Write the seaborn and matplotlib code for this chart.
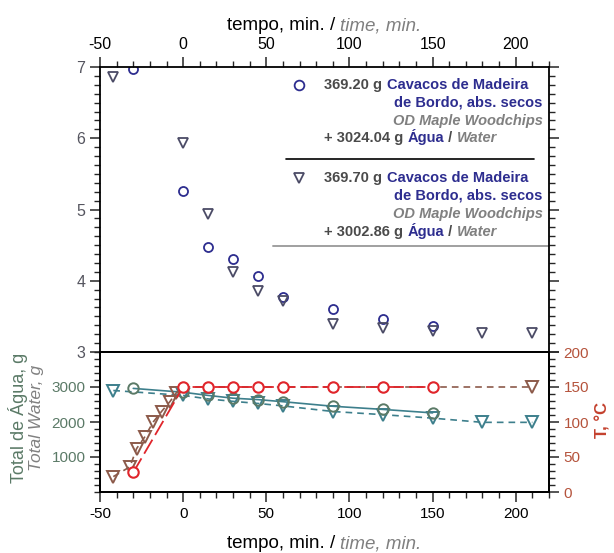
import numpy as np
import pandas as pd
import seaborn as sns
import matplotlib.pyplot as plt
from matplotlib.ticker import MultipleLocator, FixedLocator

# dados
tempo_c = [-30, 0, 15, 30, 45, 60, 90, 120, 150]
cavacos_c = [6.97, 5.26, 4.47, 4.31, 4.06, 3.77, 3.60, 3.47, 3.36]
tempo_t = [-42, 0, 15, 30, 45, 60, 90, 120, 150, 180, 210]
cavacos_t = [6.86, 5.93, 4.93, 4.12, 3.86, 3.72, 3.40, 3.34, 3.30, 3.27, 3.27]

agua_c = [2960, 2850, 2760, 2680, 2640, 2580, 2450, 2360, 2260]
agua_t = [2900, 2760, 2660, 2590, 2530, 2460, 2300, 2210, 2110, 1990, 1990]

temp_c = [28, 150, 150, 150, 150, 150, 150, 150, 150]
tempo_temp_t = [-42, -32, -28, -23, -18, -13, -8, -4, 0, 210]
temp_t = [22, 36, 62, 79, 100, 115, 129, 142, 150, 150]

sns.set_style('ticks')
plt.rcParams['font.family'] = ['Liberation Sans', 'DejaVu Sans']
plt.rcParams['axes.unicode_minus'] = False

navy = '#2d2d8f'
cinza_esc = '#4a4a4a'
cinza = '#808080'
verde = '#5b7a67'
teal = '#3d7f8c'
vermelho = '#e0252b'
marrom = '#8c5a4a'
tcol = '#b5533c'

fig = plt.figure(figsize=(6.14, 5.53), dpi=100)
W, H = 614, 553
ax1 = fig.add_axes([100 / W, 1 - 352 / H, 449 / W, 285 / H])
ax2 = fig.add_axes([100 / W, 1 - 492 / H, 449 / W, 140 / H])
ax2r = ax2.twinx()

# ---- painel de cima ----
sns.lineplot(x=tempo_c, y=cavacos_c, ax=ax1, marker='o', linestyle='', color=navy,
             markerfacecolor='none', markeredgecolor=navy, markersize=6.5, markeredgewidth=1.3)
sns.lineplot(x=tempo_t, y=cavacos_t, ax=ax1, marker='v', linestyle='', color='#4b4b66',
             markerfacecolor='none', markeredgecolor='#4b4b66', markersize=7.5, markeredgewidth=1.3)

ax1.set_xlim(-50, 220)
ax1.set_ylim(3, 7)
ax1.xaxis.set_major_locator(MultipleLocator(50))
ax1.xaxis.set_minor_locator(MultipleLocator(10))
ax1.yaxis.set_major_locator(MultipleLocator(1))
ax1.yaxis.set_minor_locator(MultipleLocator(0.125))
ax1.tick_params(axis='x', which='both', bottom=False, top=True, labelbottom=False,
                labeltop=True, direction='out', labelsize=11.5, labelcolor='black')
ax1.tick_params(axis='y', which='both', left=True, right=True, labelright=False,
                direction='out', labelsize=11.5, labelcolor='#55555f')
ax1.tick_params(which='major', length=7, width=1.1)
ax1.tick_params(which='minor', length=4, width=1.0)

# legenda feita a mao
def texto_multi(ax, x, y, partes, size=10.5):
    t = ax.text(x, y, partes[0][0], color=partes[0][1], fontweight='bold',
                fontstyle=partes[0][2], fontsize=size, va='center', ha='left')
    for s, c, st in partes[1:]:
        t = ax.annotate(s, xycoords=t, xy=(1, 0), va='bottom', color=c,
                        fontweight='bold', fontstyle=st, fontsize=size)
    return t

blocos = [(6.75, 'o', navy, '369.20 g ', '+ 3024.04 g '),
          (5.44, 'v', '#4b4b66', '369.70 g ', '+ 3002.86 g ')]
for y0, mk, cor, massa, agua in blocos:
    ax1.plot([69.7], [y0], marker=mk, linestyle='', markerfacecolor='none',
             markeredgecolor=cor, markersize=7, markeredgewidth=1.3)
    texto_multi(ax1, 85, y0, [(massa, cinza_esc, 'normal'),
                              ('Cavacos de Madeira', navy, 'normal')])
    ax1.text(216, y0 - 0.25, 'de Bordo, abs. secos', color=navy, fontweight='bold',
             fontsize=10.5, ha='right', va='center')
    ax1.text(216.5, y0 - 0.51, 'OD Maple Woodchips', color=cinza, fontstyle='italic',
             fontweight='bold', fontsize=10.5, ha='right', va='center')
    texto_multi(ax1, 85, y0 - 0.75, [(agua, cinza_esc, 'normal'), ('Água', navy, 'normal'),
                                     (' / ', cinza_esc, 'normal'), ('Water', cinza, 'italic')])

ax1.plot([62, 211], [5.71, 5.71], color='black', lw=1.2)
ax1.plot([54, 220], [4.49, 4.49], color='#a0a0a0', lw=1.4)

# ---- painel de baixo ----
sns.lineplot(x=tempo_t, y=agua_t, ax=ax2, marker='v', color=teal, linestyle=(0, (4, 3)),
             markerfacecolor='none', markeredgecolor=teal, markersize=8, markeredgewidth=1.4, lw=1.2)
sns.lineplot(x=tempo_c, y=agua_c, ax=ax2, marker='o', color=teal, linestyle='-',
             markerfacecolor='none', markeredgecolor=verde, markersize=7.5, markeredgewidth=1.4, lw=1.2)

ax2.set_xlim(-50, 220)
ax2.set_ylim(0, 4000)
ax2.yaxis.set_major_locator(FixedLocator([1000, 2000, 3000]))
ax2.yaxis.set_minor_locator(MultipleLocator(200))
ax2.xaxis.set_major_locator(MultipleLocator(50))
ax2.xaxis.set_minor_locator(MultipleLocator(10))
ax2.tick_params(axis='x', which='both', bottom=True, top=False, direction='out',
                labelsize=11, labelcolor='black')
ax2.tick_params(axis='y', which='both', left=True, right=False, direction='out',
                labelsize=11, labelcolor=verde)
ax2.tick_params(which='major', length=7, width=1.1)
ax2.tick_params(which='minor', length=4, width=1.0)

ax2r.plot(tempo_temp_t, temp_t, color=marrom, linestyle=(0, (4, 3)), lw=1.2,
          marker='v', markevery=[0, 1, 2, 3, 4, 5, 6, 7, 9], markerfacecolor='none',
          markeredgecolor=marrom, markersize=8, markeredgewidth=1.4)
sns.lineplot(x=tempo_c, y=temp_c, ax=ax2r, marker='o', color=vermelho, linestyle=(0, (9, 3)),
             markerfacecolor='white', markeredgecolor=vermelho, markersize=7.5, markeredgewidth=1.5, lw=1.3)
ax2r.set_ylim(0, 200)
ax2r.yaxis.set_major_locator(MultipleLocator(50))
ax2r.yaxis.set_minor_locator(MultipleLocator(10))
ax2r.tick_params(axis='y', which='both', right=True, direction='out', labelsize=11, labelcolor=tcol)
ax2r.tick_params(which='major', length=7, width=1.1)
ax2r.tick_params(which='minor', length=4, width=1.0)
ax2r.set_ylabel('')

for ax in (ax1, ax2, ax2r):
    ax.set_xlabel('')
    for sp in ax.spines.values():
        sp.set_visible(True)
        sp.set_linewidth(1.3)
        sp.set_color('black')
ax1.set_ylabel('')
ax2.set_ylabel('')

# rotulos do tempo (em cima e em baixo)
for ypix in (26, 544):
    t = fig.text(227 / W, 1 - ypix / H, 'tempo, min. / ', fontsize=13.5, color='black', va='center')
    ax1.annotate('time, min.', xycoords=t, xy=(1, 0), va='bottom', fontsize=13.5,
                 color=cinza, fontstyle='italic', annotation_clip=False)

fig.text(18 / W, 1 - 418 / H, 'Total de Água, g', rotation=90, fontsize=13, color=verde,
         ha='center', va='center')
fig.text(37 / W, 1 - 418 / H, 'Total Water, g', rotation=90, fontsize=12.5, color=cinza,
         fontstyle='italic', ha='center', va='center')
fig.text(603 / W, 1 - 420 / H, 'T, °C', rotation=90, fontsize=12, color='#c4412e',
         fontweight='bold', ha='center', va='center')

fig.savefig('out.png', dpi=100)
